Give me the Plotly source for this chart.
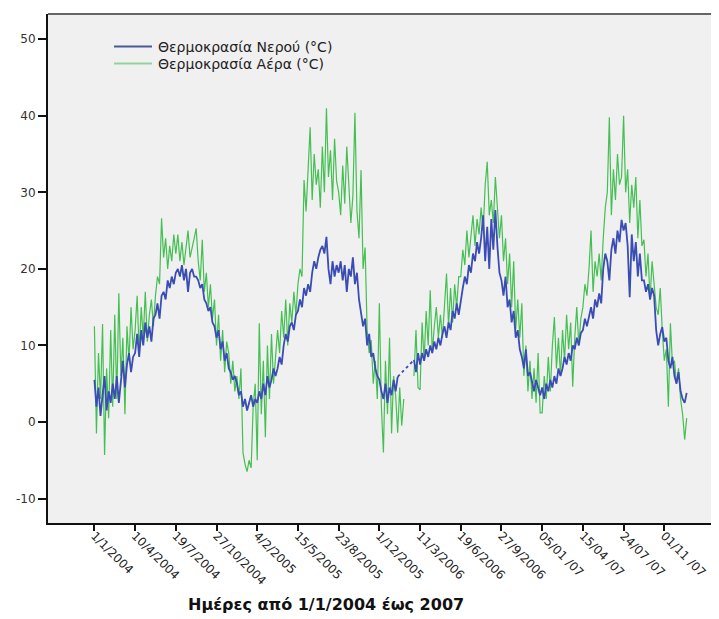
import plotly.graph_objects as go

# ---- data: readings every 5 days starting 1/1/2004 ----
step_days = 5

water_2004 = [5.5, 2.0, 4.5, 0.8, 3.5, 6.0, 1.5, 4.0, 2.5, 5.0,
              3.0, 6.0, 2.5, 5.5, 8.0, 4.5, 7.5, 9.0, 6.5, 8.5,
              9.0, 11.5, 8.5, 12.0, 10.0, 13.0, 11.0, 12.5, 10.5, 13.5,
              14.0, 15.5, 13.5, 16.5, 17.0, 16.0, 18.5, 17.5, 19.0, 18.0,
              19.5, 20.0, 19.0, 20.5, 18.5, 20.0, 17.0, 19.5, 20.0, 19.0,
              19.0, 18.5, 17.5, 18.0, 16.0, 15.5, 14.5, 15.0, 13.0, 12.5,
              11.0, 12.0, 9.5, 10.5, 8.0, 9.0, 7.0, 6.5, 5.5, 6.0,
              5.0, 3.5, 4.0]
water_2005 = [2.0, 3.0, 1.5, 2.5, 3.5, 2.0, 3.0,
              2.5, 4.0, 3.0, 5.0, 3.5, 6.0, 4.5, 5.5, 7.0, 6.0,
              7.0, 8.5, 7.5, 10.0, 11.5, 10.5, 12.5, 13.0, 12.0, 14.0,
              14.5, 16.0, 15.0, 17.5, 16.5, 18.0, 17.0, 19.5, 21.0, 20.0,
              21.5, 22.5, 23.0, 22.0, 24.2, 20.0, 18.0, 21.0, 19.0, 20.5,
              19.5, 21.0, 18.5, 20.5, 17.0, 20.0, 19.0, 21.5, 18.0, 19.5,
              16.0, 14.0, 12.5, 13.5, 10.0, 11.5, 8.5, 9.0, 7.0, 6.0,
              5.5, 4.0, 3.0, 5.0, 2.5, 4.5]
water_2006 = [3.5, 5.5, 4.0, 5.9,
              None, None, None, None, None, None, None, 8.1, 6.5, 9.0,
              7.5, 9.0, 8.0, 9.5, 8.5, 10.0, 9.0, 10.5, 9.5, 11.0,
              10.0, 11.5, 12.5, 11.0, 13.0, 12.0, 14.5, 13.5, 15.5, 14.0,
              16.0, 17.5, 19.0, 18.0, 20.5, 19.5, 22.0, 21.0, 23.5, 22.0,
              24.0, 27.0, 21.0, 25.5, 20.0, 26.5, 22.5, 27.7, 23.0, 19.5,
              18.5, 16.5, 19.0, 15.0, 16.0, 13.0, 14.5, 11.0, 12.0, 9.5,
              8.5, 7.0, 9.5, 6.0, 6.5, 5.0, 4.0, 5.5, 4.5]
water_2007 = [3.5,
              4.5, 3.0, 5.0, 4.0, 5.5, 4.5, 6.0, 5.0, 7.0, 6.0,
              7.0, 8.5, 7.5, 9.0, 8.0, 10.0, 9.5, 11.0, 10.0, 11.6,
              12.0, 13.5, 12.5, 14.0, 15.0, 13.5, 16.0, 15.0, 16.8, 15.5,
              20.0, 22.0, 21.0, 18.5, 22.5, 24.0, 22.0, 25.0, 23.5, 26.4,
              25.0, 26.0, 23.0, 16.3, 24.5, 21.0, 23.5, 19.0, 22.0, 18.5,
              18.5, 17.0, 18.0, 16.0, 17.5, 16.5, 12.0, 10.0, 11.5, 12.4,
              10.5, 11.0, 8.0, 7.0, 8.5, 6.0, 5.0, 6.5, 4.0, 3.0,
              2.5, 3.8]

air_2004 = [12.5, -1.5, 9.0, 3.0, 12.8, -4.3, 7.0, 0.5, 12.0, 2.0,
            14.0, 3.0, 16.8, 6.0, 11.0, 1.0, 12.5, 8.0, 15.0, 9.5,
            12.0, 16.5, 9.0, 15.0, 11.0, 17.0, 10.5, 14.0, 16.0, 12.5,
            16.5, 19.0, 18.0, 26.6, 21.5, 24.0, 20.0, 23.0, 21.0, 24.5,
            22.0, 24.5, 21.0, 23.5, 20.5, 22.5, 25.0, 21.5, 23.0, 24.0,
            25.3, 21.0, 18.5, 23.8, 17.0, 19.5, 15.0, 18.0, 13.5, 16.0,
            10.0, 14.0, 8.0, 12.0, 6.5, 10.5, 9.0, 5.0, 8.0, 4.0,
            6.0, 3.0, 7.0]
air_2005 = [-4.0, -5.5, -6.5, -5.0, -6.0, 2.0, 5.0,
            -5.0, 12.9, 1.0, 8.0, -2.0, 10.0, 3.0, 11.5, 5.0, 9.0,
            12.0, 9.0, 14.5, 11.0, 16.0, 10.0, 15.5, 13.0, 17.0, 14.0,
            18.0, 20.0, 19.0, 31.6, 27.5, 33.0, 38.5, 29.0, 35.0, 31.0,
            33.0, 28.0, 36.0, 30.0, 41.0, 32.0, 35.5, 29.0, 37.0, 31.5,
            30.0, 27.0, 33.5, 28.5, 36.0, 31.0, 26.0, 29.5, 40.4, 27.5,
            24.0, 32.9, 20.0, 22.8, 12.0, 9.0, 10.7, 5.0, 8.0, 3.0,
            15.5, 2.0, -4.0, 8.0, 1.0, 11.0]
air_2006 = [-1.5, 6.0, 3.5, -1.4,
            4.5, -0.5, 3.0, None, None, None, None, 6.0, 12.0, 4.5,
            4.2, 13.0, 8.0, 14.5, 10.0, 17.2, 9.0, 12.5, 15.0, 11.0,
            14.0, 11.0, 16.0, 19.4, 12.5, 17.5, 13.0, 18.0, 15.0, 19.0,
            19.0, 22.5, 20.5, 25.0, 21.5, 24.0, 27.0, 23.0, 26.5, 24.5,
            28.0, 25.0, 31.0, 34.0, 27.0, 29.0, 26.0, 32.0, 28.5, 24.0,
            27.0, 21.0, 24.0, 18.0, 22.0, 15.0, 21.0, 12.0, 16.0, 11.0,
            15.5, 6.0, 10.0, 4.0, 8.0, 3.0, 7.0, 2.5, 9.0]
air_2007 = [1.2,
            1.2, 6.0, 3.0, 8.5, 4.0, 10.0, 13.7, 7.0, 11.0, 6.0,
            12.0, 8.0, 14.0, 9.5, 13.0, 4.6, 11.0, 15.0, 10.0, 13.5,
            15.0, 18.0, 16.5, 20.0, 25.0, 17.0, 21.0, 19.0, 22.0, 18.5,
            24.0, 28.0, 30.0, 39.8, 27.0, 33.0, 29.0, 35.0, 31.0, 32.0,
            40.0, 30.0, 33.0, 26.0, 31.0, 28.0, 32.0, 24.0, 29.0, 23.0,
            23.8, 19.0, 22.0, 16.0, 21.0, 18.0, 15.0, 14.0, 17.5, 12.0,
            8.0, 9.5, 2.0, 12.9, 7.5, 8.0, 5.0, 7.0, 3.0, 1.0,
            -2.3, 0.5]

tick_days = [0, 100, 200, 300, 400, 500, 600, 700, 800, 900, 1000, 1100, 1200, 1300, 1400]
tick_labels = ["1/1/2004", "10/4/2004", "19/7/2004", "27/10/2004", "4/2/2005",
               "15/5/2005", "23/8/2005", "1/12/2005", "11/3/2006", "19/6/2006",
               "27/9/2006", "05/01 /07", "15/04 /07", "24/07 /07", "01/11 /07"]
y_ticks = [-10, 0, 10, 20, 30, 40, 50]
y_tick_labels = ["-10", "0", "10", "20", "30", "40", "50"]

series_names = ["Θερμοκρασία Νερού (°C)", "Θερμοκρασία Αέρα (°C)"]

water = water_2004 + water_2005 + water_2006 + water_2007
air = air_2004 + air_2005 + air_2006 + air_2007
days = [i * step_days for i in range(len(water))]

# dotted connector across the missing water readings
missing = [i for i, v in enumerate(water) if v is None]
gap_x = [days[missing[0] - 1], days[missing[-1] + 1]]
gap_y = [water[missing[0] - 1], water[missing[-1] + 1]]

BLUE = "#3a4db4"
GREEN = "#44bf52"
FONT = "DejaVu Sans, Verdana, sans-serif"

fig = go.Figure()
fig.add_trace(go.Scatter(x=days, y=air, mode="lines", name=series_names[1],
                         line=dict(color=GREEN, width=1.2), showlegend=False))
fig.add_trace(go.Scatter(x=days, y=water, mode="lines", name=series_names[0],
                         line=dict(color=BLUE, width=1.8), showlegend=False))
fig.add_trace(go.Scatter(x=gap_x, y=gap_y, mode="lines", showlegend=False,
                         line=dict(color=BLUE, width=1.8, dash="dot")))

# page is offset by the browser's 8px body margin
PAGE_OFF = 8
W, H = 719 - PAGE_OFF, 619 - PAGE_OFF
# plot-area geometry in page px
L, R, T, B = 48, 716, 14, 523
def px_x(p):
    return (p - L) / (R - L)
def px_y(p):
    return (B - p) / (B - T)

legend_rows = [(series_names[0], "#4b5a95", 46.5), (series_names[1], "#8fd39a", 63.5)]
shapes = [dict(type="line", xref="paper", yref="paper", x0=0, x1=1, y0=1, y1=1,
               line=dict(color="#666", width=2)),
          dict(type="line", xref="paper", yref="paper", x0=1, x1=1, y0=0, y1=1,
               line=dict(color="#dcdcdc", width=1))]
annotations = [dict(text="<b>Ημέρες από 1/1/2004 έως 2007</b>", xref="paper", yref="paper",
                    x=px_x(326), y=px_y(604), xanchor="center", yanchor="middle", showarrow=False,
                    font=dict(family=FONT, size=16, color="#111"))]
for name, col, ypx in legend_rows:
    shapes.append(dict(type="line", xref="paper", yref="paper", x0=px_x(114), x1=px_x(152),
                       y0=px_y(ypx), y1=px_y(ypx), line=dict(color=col, width=2)))
    annotations.append(dict(text=name, xref="paper", yref="paper", x=px_x(156), y=px_y(ypx),
                            xanchor="left", yanchor="middle", showarrow=False,
                            font=dict(family=FONT, size=14, color="#222")))

fig.update_layout(
    width=W, height=H,
    margin=dict(l=L - PAGE_OFF, r=W - (R - PAGE_OFF), t=T - PAGE_OFF, b=H - (B - PAGE_OFF)),
    paper_bgcolor="white", plot_bgcolor="#f0f0f0",
    font=dict(family=FONT, color="#222"),
    showlegend=False,
    xaxis=dict(range=[-114, 1527], tickmode="array", tickvals=tick_days, ticktext=tick_labels,
               tickangle=45, ticks="outside", ticklen=6, tickcolor="#111", tickwidth=1.5,
               ticklabelstandoff=-7, automargin=False,
               showline=True, linecolor="#111", linewidth=2, showgrid=False, zeroline=False,
               tickfont=dict(family=FONT, size=12, color="#222")),
    yaxis=dict(range=[-13.2, 53.3], tickmode="array", tickvals=y_ticks, ticktext=y_tick_labels,
               ticks="outside", ticklen=8, tickcolor="#111", tickwidth=1.5, automargin=False,
               showline=True, linecolor="#111", linewidth=2, showgrid=False, zeroline=False,
               tickfont=dict(family=FONT, size=12, color="#333")),
    shapes=shapes,
    annotations=annotations,
)

fig.write_html("out.html")
